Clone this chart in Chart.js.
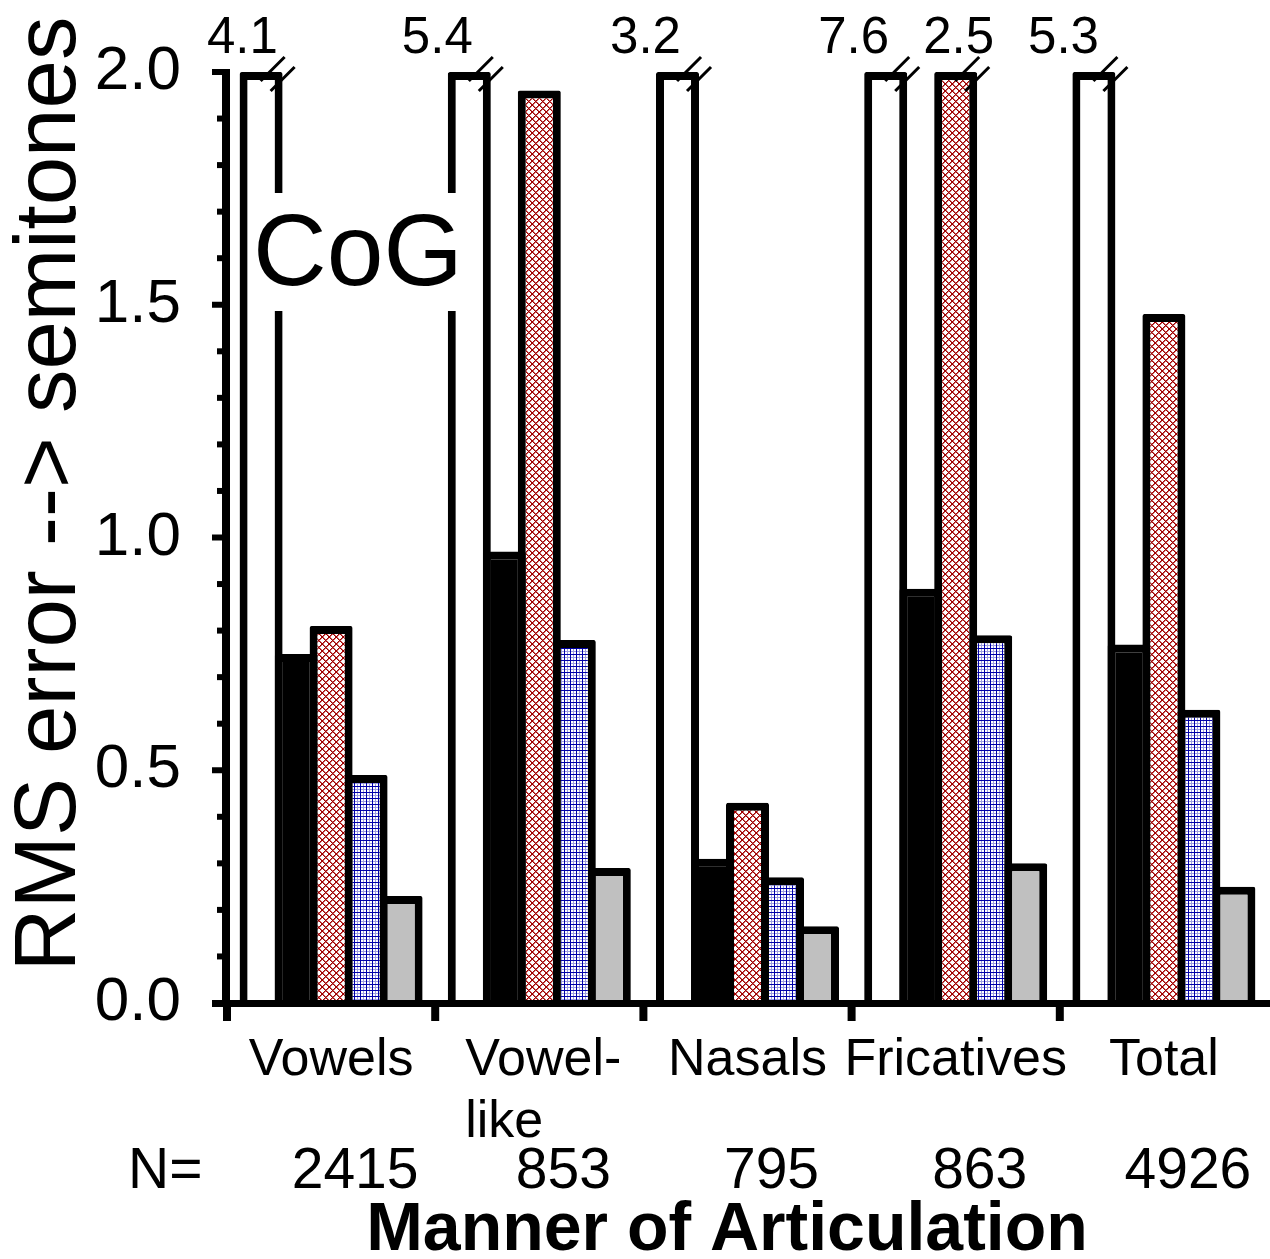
<!DOCTYPE html>
<html>
<head>
<meta charset="utf-8">
<title>CoG - RMS error</title>
<script src="https://cdn.jsdelivr.net/npm/chart.js@4.4.0/dist/chart.umd.min.js"></script>
<style>
  html, body { margin: 0; padding: 0; background: #fff; }
  #wrap { width: 1270px; height: 1259px; }
</style>
</head>
<body>
<div id="wrap"><canvas id="grafico" width="1270" height="1259"></canvas></div>
<script>
// dados
const categories = ['Vowels', ['Vowel-', 'like'], 'Nasals', 'Fricatives', 'Total'];
const countN = [2415, 853, 795, 863, 4926];
const serieWhite = [4.1, 5.4, 3.2, 7.6, 5.3];
const serieBlack = [0.75, 0.97, 0.31, 0.89, 0.77];
const serieRed = [0.81, 1.96, 0.43, 2.5, 1.48];
const serieBlue = [0.49, 0.78, 0.27, 0.79, 0.63];
const serieGray = [0.23, 0.29, 0.165, 0.30, 0.25];
const yLabels = [0, 0.5, 1.0, 1.5, 2.0];
const yMax = 2.0;

const FONT = "'Liberation Sans', Arial, sans-serif";
Chart.defaults.font.family = FONT;
Chart.defaults.color = '#000';

function pattern(kind) {
  const c = document.createElement('canvas');
  const n = kind == 'cross' ? 7 : 6;
  c.width = c.height = n;
  const p = c.getContext('2d');
  p.fillStyle = '#fff';
  p.fillRect(0, 0, n, n);
  if (kind == 'cross') {
    p.fillStyle = '#c86464';
    for (let i = 0; i < n; i++) {
      p.fillRect((i + 1) % n, i, 1, 1);
      p.fillRect((n - i) % n, i, 1, 1);
    }
    p.fillStyle = '#a00000';
    for (let i = 0; i < n; i++) {
      p.fillRect(i, i, 1, 1);
      p.fillRect(n - 1 - i, i, 1, 1);
    }
  } else {
    p.fillStyle = '#9c9ce0';
    p.fillRect(3, 0, 1, 6);
    p.fillRect(0, 3, 6, 1);
    p.fillStyle = '#0000a8';
    p.fillRect(0, 0, 1, 6);
    p.fillRect(0, 0, 6, 1);
  }
  return p.createPattern(c, 'repeat');
}

const rawSeries = [serieWhite, serieBlack, serieRed, serieBlue, serieGray];
const fills = ['#ffffff', '#000000', pattern('cross'), pattern('grid'), '#c0c0c0'];

const datasets = rawSeries.map((vals, k) => ({
  label: 'serie ' + (k + 1),
  // barras acima do limite sao cortadas em 2.0 (marca de quebra)
  data: vals.map(v => Math.min(v, yMax)),
  backgroundColor: fills[k],
  borderColor: '#000',
  borderWidth: 8,
  borderRadius: 2,
  borderSkipped: 'start',
  categoryPercentage: 0.8405,
  barPercentage: 1.229
}));

const decor = {
  id: 'decor',
  beforeDraw(chart) {
    const ctx = chart.ctx;
    ctx.save();
    ctx.fillStyle = '#fff';
    ctx.fillRect(0, 0, chart.width, chart.height);
    ctx.restore();
  },
  afterDatasetsDraw(chart) {
    const ctx = chart.ctx;
    const ca = chart.chartArea;
    const xs = chart.scales.x;
    const ys = chart.scales.y;
    ctx.save();

    // caixa do "CoG"
    ctx.fillStyle = '#fff';
    ctx.fillRect(250, 193, 218, 118);
    ctx.fillStyle = '#000';
    ctx.font = '102px ' + FONT;
    ctx.textAlign = 'left';
    ctx.textBaseline = 'alphabetic';
    ctx.fillText('CoG', 253, 285);

    // marcas de quebra + valores reais
    const broken = [];
    rawSeries.forEach((vals, k) => {
      const meta = chart.getDatasetMeta(k);
      vals.forEach((v, i) => {
        if (v > yMax) broken.push({ el: meta.data[i], text: v.toFixed(1) });
      });
    });
    ctx.strokeStyle = '#000';
    ctx.lineWidth = 3;
    broken.forEach(b => {
      const cx = b.el.x + b.el.width / 2, cy = b.el.y;
      ctx.beginPath();
      ctx.moveTo(cx - 22, cy + 9); ctx.lineTo(cx + 2, cy - 15);
      ctx.moveTo(cx - 12, cy + 19); ctx.lineTo(cx + 12, cy - 5);
      ctx.stroke();
    });
    ctx.font = '51px ' + FONT;
    ctx.textAlign = 'center';
    let prevRight = -Infinity;
    broken.sort((a, b) => a.el.x - b.el.x).forEach(b => {
      const w = ctx.measureText(b.text).width;
      let tx = b.el.x - 32;
      tx = Math.max(tx, ca.left - 20 + w / 2, prevRight + 34 + w / 2);
      ctx.fillText(b.text, tx, b.el.y - 19);
      prevRight = tx + w / 2;
    });

    // eixos
    const axX = ca.left - 1;
    const axY = ca.bottom + 0.5;
    ctx.lineWidth = 6;
    ys.ticks.forEach(t => {
      const y = ys.getPixelForValue(t.value);
      const major = yLabels.some(v => Math.abs(v - t.value) < 1e-6);
      ctx.beginPath();
      ctx.moveTo(major ? 212 : 217, y);
      ctx.lineTo(axX, y);
      ctx.stroke();
    });
    ctx.lineWidth = 8;
    for (let i = 0; i < categories.length; i++) {
      const x = xs.getPixelForValue(i - 0.5);
      ctx.beginPath();
      ctx.moveTo(x, axY);
      ctx.lineTo(x, 1021);
      ctx.stroke();
    }
    ctx.beginPath();
    ctx.moveTo(axX, ys.getPixelForValue(yMax) - 3);
    ctx.lineTo(axX, axY);
    ctx.stroke();
    ctx.lineWidth = 7;
    ctx.beginPath();
    ctx.moveTo(212, axY);
    ctx.lineTo(chart.width, axY);
    ctx.stroke();

    // rotulos das categorias
    ctx.fillStyle = '#000';
    ctx.font = '52px ' + FONT;
    categories.forEach((lab, i) => {
      const x = xs.getPixelForValue(i);
      if (Array.isArray(lab)) {
        const mw = Math.max(...lab.map(s => ctx.measureText(s).width));
        ctx.textAlign = 'left';
        lab.forEach((s, j) => ctx.fillText(s, x - mw / 2 + 4, 1075 + j * 62));
      } else {
        ctx.textAlign = 'center';
        ctx.fillText(lab, x, 1075);
      }
    });

    // linha N=
    ctx.font = '57px ' + FONT;
    ctx.textAlign = 'left';
    ctx.fillText('N=', 128, 1188);
    ctx.textAlign = 'center';
    countN.forEach((n, i) => ctx.fillText(String(n), xs.getPixelForValue(i) + 24, 1188));

    // titulos
    ctx.font = 'bold 68px ' + FONT;
    ctx.fillText('Manner of Articulation', 727, 1250);
    ctx.save();
    ctx.translate(75, 494);
    ctx.rotate(-Math.PI / 2);
    ctx.font = '87px ' + FONT;
    ctx.textAlign = 'center';
    ctx.fillText('RMS error --> semitones', 0, 0);
    ctx.restore();

    ctx.restore();
  }
};

new Chart(document.getElementById('grafico'), {
  type: 'bar',
  data: { labels: categories, datasets: datasets },
  options: {
    responsive: false,
    animation: false,
    events: [],
    layout: { padding: { top: 72, right: 2, bottom: 256, left: 0 } },
    plugins: { legend: { display: false }, tooltip: { enabled: false } },
    scales: {
      x: { display: false, offset: true },
      y: {
        min: 0,
        max: yMax,
        grid: { display: false, drawTicks: false },
        border: { display: false },
        ticks: {
          stepSize: 0.1,
          autoSkip: false,
          padding: 46,
          font: { size: 62 },
          color: '#000',
          callback: v => yLabels.some(l => Math.abs(l - v) < 1e-6) ? Number(v).toFixed(1) : ''
        },
        afterFit: s => { s.width = 227; s.paddingTop = 0; s.paddingBottom = 0; }
      }
    }
  },
  plugins: [decor]
});
</script>
</body>
</html>
